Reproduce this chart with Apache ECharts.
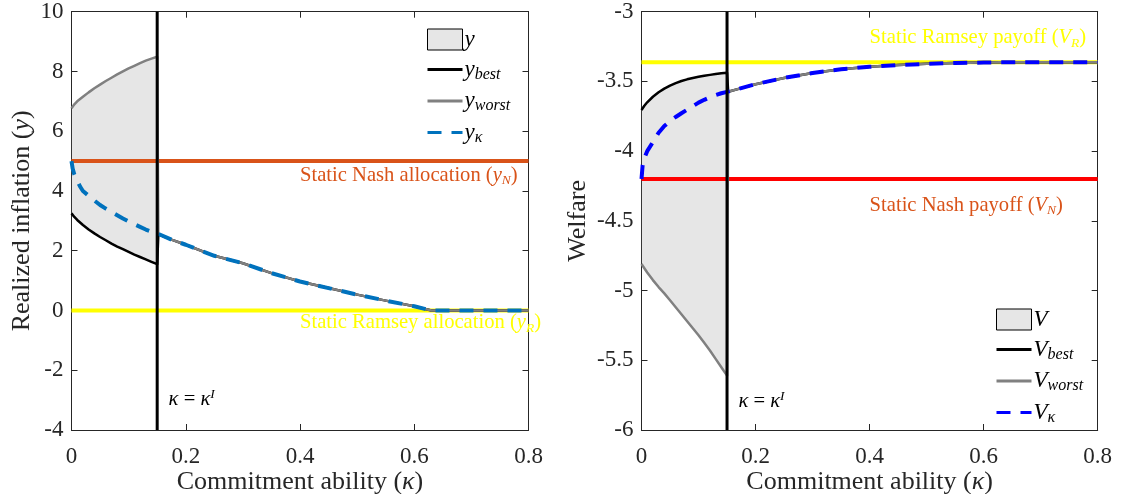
<!DOCTYPE html>
<html>
<head>
<meta charset="utf-8">
<script src="https://cdn.jsdelivr.net/npm/echarts@6/dist/echarts.min.js"></script>
<style>html,body{margin:0;padding:0;background:#fff;}#c{width:1121px;height:494px;}</style>
</head>
<body>
<div id="c"></div>
<script>
// ---------- data ----------
const kappaPre  = [0, 0.005, 0.01, 0.02, 0.03, 0.04, 0.05, 0.06, 0.07, 0.08, 0.09, 0.1, 0.11, 0.12, 0.13, 0.14, 0.15];
const yWorstPre = [6.77, 6.9, 7.0, 7.15, 7.3, 7.44, 7.56, 7.68, 7.79, 7.9, 8.0, 8.1, 8.19, 8.28, 8.36, 8.43, 8.49];
const yBestPre  = [3.25, 3.13, 3.03, 2.86, 2.71, 2.58, 2.46, 2.35, 2.24, 2.14, 2.05, 1.96, 1.87, 1.79, 1.71, 1.63, 1.55];
const VWorstPre = [-4.81, -4.84, -4.87, -4.925, -4.975, -5.02, -5.07, -5.12, -5.17, -5.22, -5.27, -5.32, -5.375, -5.43, -5.49, -5.55, -5.61];
const VBestPre  = [-3.705, -3.675, -3.65, -3.61, -3.578, -3.552, -3.53, -3.512, -3.497, -3.485, -3.475, -3.467, -3.46, -3.453, -3.447, -3.441, -3.437];

const kappaKPre = [0, 0.002, 0.005, 0.01, 0.015, 0.02, 0.03, 0.04, 0.05, 0.06, 0.07, 0.08, 0.09, 0.1, 0.11, 0.12, 0.13, 0.14, 0.15];
const yKPre = [5.0, 4.75, 4.55, 4.35, 4.15, 4.0, 3.84, 3.68, 3.53, 3.41, 3.3, 3.19, 3.08, 2.98, 2.89, 2.8, 2.71, 2.64, 2.58];
const VKPre = [-4.2, -4.1, -4.05, -4.0, -3.968, -3.935, -3.868, -3.82, -3.785, -3.755, -3.728, -3.703, -3.678, -3.652, -3.632, -3.614, -3.598, -3.585, -3.575];

const kappaPost = [0.152, 0.175, 0.2, 0.25, 0.3, 0.35, 0.4, 0.45, 0.5, 0.55, 0.6, 0.63, 0.7, 0.8];
const yPost = [2.55, 2.37, 2.2, 1.83, 1.58, 1.25, 0.97, 0.75, 0.53, 0.33, 0.14, 0.0, 0.0, 0.0];
const VPost = [-3.574, -3.548, -3.52, -3.475, -3.44, -3.413, -3.395, -3.382, -3.374, -3.368, -3.365, -3.363, -3.363, -3.363];

const kappaI = 0.15;
const yNash = 5, yRamsey = 0;
const VNash = -4.2, VRamsey = -3.363;
const kappaRange = [0, 0.8];

// ---------- helpers ----------
const FONT = '"Times New Roman", "Liberation Serif", "DejaVu Serif", serif';
function pairs(xs, ys) { return xs.map((x, i) => [x, ys[i]]); }
function full(pre, post) { return pairs(kappaPre, pre).concat(pairs(kappaPost, post)); }
function kfull(pre, post) { return pairs(kappaKPre, pre).concat(pairs(kappaPost, post)); }

const rich = {
  it: { fontFamily: FONT, fontStyle: 'italic', fontSize: 23, lineHeight: 26, color: '#000' },
  sub: { fontFamily: FONT, fontStyle: 'italic', fontSize: 16, lineHeight: 26, verticalAlign: 'bottom', color: '#000' },
  t: { fontFamily: FONT, fontSize: 23, lineHeight: 26, color: '#000' }
};

function bandSeries(name, xi, yi, upper, lower) {
  return {
    name: name, type: 'custom', xAxisIndex: xi, yAxisIndex: yi, z: 1,
    data: [0],
    renderItem: function (params, api) {
      const pts = [];
      for (let i = 0; i < kappaPre.length; i++) pts.push(api.coord([kappaPre[i], upper[i]]));
      for (let i = kappaPre.length - 1; i >= 0; i--) pts.push(api.coord([kappaPre[i], lower[i]]));
      return { type: 'polygon', shape: { points: pts },
        style: { fill: '#e6e6e6', stroke: '#000', lineWidth: 0.6 } };
    },
    itemStyle: { color: '#e6e6e6', borderColor: '#000', borderWidth: 1 }
  };
}
function lineSeries(name, xi, yi, data, color, width, type, z) {
  return { name: name, type: 'line', xAxisIndex: xi, yAxisIndex: yi, data: data,
    showSymbol: false, symbol: 'none', z: z || 3, clip: true,
    lineStyle: { color: color, width: width, type: type || 'solid', join: 'round' },
    itemStyle: { color: color } };
}
function hline(yv, xi, yi, color) {
  return lineSeries('', xi, yi, [[kappaRange[0], yv], [kappaRange[1], yv]], color, 4, 'solid', 2);
}
function vline(xi, yi, ymin, ymax) {
  return lineSeries('', xi, yi, [[kappaI, ymin], [kappaI, ymax]], '#000', 3, 'solid', 6);
}

const axisLineStyle = { color: '#262626', width: 1 };
function xAx(gi, pos, show) {
  return { type: 'value', gridIndex: gi, position: pos, min: 0, max: 0.8, interval: 0.2,
    axisLine: { show: true, onZero: false, lineStyle: axisLineStyle },
    axisTick: { show: true, inside: true, length: 6, lineStyle: axisLineStyle },
    axisLabel: { show: show, fontFamily: FONT, fontSize: 23, color: '#262626', margin: 15,
      formatter: v => (Math.abs(v) < 1e-9 ? '0' : String(+v.toFixed(1))) },
    splitLine: { show: false },
    name: show ? 'Commitment ability ({it|κ})' : '', nameLocation: 'middle', nameGap: 52,
    nameMoveOverlap: false,
    nameTextStyle: { fontFamily: FONT, fontSize: 26, color: '#262626', verticalAlign: 'middle',
      rich: { it: { fontFamily: FONT, fontStyle: 'italic', fontSize: 26, color: '#262626' } } } };
}
function yAx(gi, pos, show, min, max, interval, name, gap) {
  return { type: 'value', gridIndex: gi, position: pos, min: min, max: max, interval: interval,
    axisLine: { show: true, onZero: false, lineStyle: axisLineStyle },
    axisTick: { show: true, inside: true, length: 6, lineStyle: axisLineStyle },
    axisLabel: { show: show, fontFamily: FONT, fontSize: 23, color: '#262626', margin: 8 },
    splitLine: { show: false },
    name: show ? name : '', nameLocation: 'middle', nameGap: gap, nameRotate: 90,
    nameTextStyle: { fontFamily: FONT, fontSize: 26, color: '#262626',
      rich: { it: { fontFamily: FONT, fontStyle: 'italic', fontSize: 26, color: '#262626' } } } };
}

const legendNames = {
  'y': '{it|y}', 'y_best': '{it|y}{sub|best}', 'y_worst': '{it|y}{sub|worst}', 'y_k': '{it|y}{sub|κ}',
  'V': '{it|V}', 'V_best': '{it|V}{sub|best}', 'V_worst': '{it|V}{sub|worst}', 'V_k': '{it|V}{sub|κ}'
};
function legend(names, left, top) {
  const hide = { opacity: 0 };
  return { orient: 'vertical', left: left, top: top, itemWidth: 35, itemHeight: 21, itemGap: 7,
    selectedMode: false, padding: 0,
    lineStyle: { width: 3 },
    data: [
      { name: names[0], icon: 'rect', itemStyle: { color: '#e6e6e6', borderColor: '#000', borderWidth: 1 } },
      { name: names[1], itemStyle: hide }, { name: names[2], itemStyle: hide }, { name: names[3], itemStyle: hide }
    ],
    formatter: n => legendNames[n],
    textStyle: { rich: rich, padding: [0, 0, 0, -3] } };
}

const option = {
  animation: false,
  backgroundColor: '#fff',
  textStyle: { fontFamily: FONT },
  grid: [
    { left: 71.5, top: 11.7, width: 457, height: 418.3, containLabel: false, outerBoundsMode: 'none' },
    { left: 641.5, top: 11.7, width: 456.2, height: 418.3, containLabel: false, outerBoundsMode: 'none' }
  ],
  xAxis: [xAx(0, 'bottom', true), xAx(0, 'top', false), xAx(1, 'bottom', true), xAx(1, 'top', false)],
  yAxis: [
    yAx(0, 'left', true, -4, 10, 2, 'Realized inflation ({it|y})', 36),
    yAx(0, 'right', false, -4, 10, 2, '', 0),
    yAx(1, 'left', true, -6, -3, 0.5, 'Welfare', 50),
    yAx(1, 'right', false, -6, -3, 0.5, '', 0)
  ],
  legend: [legend(['y', 'y_best', 'y_worst', 'y_k'], 426, 28), legend(['V', 'V_best', 'V_worst', 'V_k'], 995, 308)],
  series: [
    // left panel
    bandSeries('y', 0, 0, yWorstPre, yBestPre),
    hline(yNash, 0, 0, '#D95319'),
    hline(yRamsey, 0, 0, '#FFFF00'),
    lineSeries('y_best', 0, 0, full(yBestPre, yPost), '#000', 2.5, 'solid', 3),
    lineSeries('y_worst', 0, 0, full(yWorstPre, yPost), '#808080', 2.5, 'solid', 4),
    lineSeries('y_k', 0, 0, kfull(yKPre, yPost), '#0072BD', 4, [14, 10], 5),
    vline(0, 0, -4, 10),
    // right panel
    bandSeries('V', 2, 2, VBestPre, VWorstPre),
    hline(VNash, 2, 2, '#FF0000'),
    hline(VRamsey, 2, 2, '#FFFF00'),
    lineSeries('V_best', 2, 2, full(VBestPre, VPost), '#000', 2.5, 'solid', 3),
    lineSeries('V_worst', 2, 2, full(VWorstPre, VPost), '#808080', 2.5, 'solid', 4),
    lineSeries('V_k', 2, 2, kfull(VKPre, VPost), '#0000FF', 4, [14, 10], 5),
    vline(2, 2, -6, -3)
  ]
};

const chart = echarts.init(document.getElementById('c'), null, { renderer: 'canvas' });
chart.setOption(option);

// ---------- annotations (anchored in data coordinates) ----------
function annRich(color) {
  return {
    t: { fontFamily: FONT, fontSize: 20.6, lineHeight: 24, fill: color },
    it: { fontFamily: FONT, fontStyle: 'italic', fontSize: 20.6, lineHeight: 24, fill: color },
    sub: { fontFamily: FONT, fontStyle: 'italic', fontSize: 13.5, lineHeight: 24, verticalAlign: 'bottom', fill: color },
    sup: { fontFamily: FONT, fontStyle: 'italic', fontSize: 13.5, lineHeight: 24, verticalAlign: 'top', fill: color }
  };
}
const annotations = [
  { grid: 0, at: [0.4, 4.53], text: '{t|Static Nash allocation (}{it|y}{sub|N}{t|)}', color: '#D95319' },
  { grid: 0, at: [0.4, -0.42], text: '{t|Static Ramsey allocation (}{it|y}{sub|R}{t|)}', color: '#FFFF00' },
  { grid: 0, at: [0.17, -2.98], text: '{it|κ}{t| = }{it|κ}{sup|I}', color: '#000' },
  { grid: 1, at: [0.4, -3.189], text: '{t|Static Ramsey payoff (}{it|V}{sub|R}{t|)}', color: '#FFFF00' },
  { grid: 1, at: [0.4, -4.387], text: '{t|Static Nash payoff (}{it|V}{sub|N}{t|)}', color: '#D95319' },
  { grid: 1, at: [0.17, -5.797], text: '{it|κ}{t| = }{it|κ}{sup|I}', color: '#000' }
];
const graphics = annotations.map(a => {
  const p = chart.convertToPixel({ gridIndex: a.grid }, a.at);
  return { type: 'text', x: p[0], y: p[1], z: 100,
    style: { text: a.text, rich: annRich(a.color), fill: a.color, align: 'left', verticalAlign: 'middle' } };
});
chart.setOption({ graphic: graphics });
</script>
</body>
</html>
